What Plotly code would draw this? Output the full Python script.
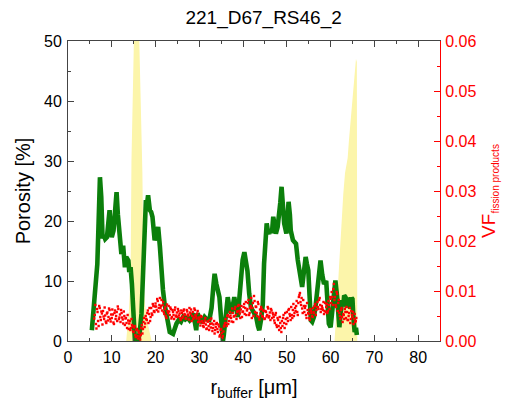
import numpy as np
import plotly.graph_objects as go

# ---- porosity profile (left axis, %) ----
por_r = [5.45, 5.8, 6.2, 6.4, 6.7, 7.0, 7.3, 7.6, 7.9, 8.2, 8.5, 8.9, 9.2, 9.5, 9.8, 10.0,
         10.4, 10.8, 11.1, 11.4, 11.7, 11.9, 12.2, 12.6, 12.8, 13.0, 13.3, 13.8, 14.0, 14.3,
         14.6, 14.8, 15.1, 15.3, 16.05, 16.4, 16.8, 17.1, 17.4, 17.6, 17.8, 18.0, 18.3, 18.7,
         19.0, 19.3, 19.6, 19.8, 20.2, 20.6, 21.0, 21.3, 21.7, 22.1, 22.5, 22.9, 23.25, 24.0,
         24.4, 24.8, 25.3, 25.8, 26.3, 26.8, 27.3, 27.8, 28.2, 28.5, 28.9, 29.3, 29.6, 30.1,
         30.5, 31.2, 31.7, 32.3, 32.8, 33.2, 33.5, 33.9, 34.2, 34.6, 35.0, 35.4, 35.6, 36.0,
         36.5, 36.9, 37.3, 37.7, 38.0, 38.4, 38.8, 39.2, 39.5, 39.9, 40.3, 40.7, 41.0, 41.4,
         41.8, 42.4, 43.0, 43.4, 43.7, 44.1, 44.5, 44.8, 45.1, 45.4, 45.7, 46.0, 46.3, 46.6,
         46.9, 47.2, 47.5, 47.9, 48.25, 48.5, 48.8, 49.1, 49.4, 49.9, 50.2, 50.4, 50.7, 50.9,
         51.4, 52.1, 52.5, 52.8, 53.2, 53.5, 53.9, 54.3, 54.6, 54.9, 55.2, 55.5, 55.8, 56.2,
         56.6, 56.95, 57.3, 57.7, 58.1, 58.5, 59.0, 59.3, 59.6, 60.0, 60.4, 60.8, 61.1, 61.5,
         62.0, 62.3, 62.6, 62.9, 63.1, 63.4, 63.7, 64.0, 64.2, 64.5, 64.8, 65.0, 65.2, 65.5,
         65.8, 66.0]
porosity = [1.8, 5.0, 10.5, 12.3, 12.8, 20.0, 27.3, 24.0, 17.1, 17.6, 17.0, 17.3, 19.5, 21.8,
            18.5, 17.3, 18.4, 22.0, 24.8, 21.0, 17.5, 16.2, 14.5, 15.9, 13.0, 12.3, 14.0, 13.4,
            11.5, 12.3, 9.5, 7.3, 3.0, 0.0, 0.0, 1.5, 4.6, 12.0, 20.0, 22.9, 23.5, 22.5, 24.3,
            21.8, 21.5, 20.7, 18.0, 16.8, 17.5, 19.0, 15.7, 12.0, 8.5, 6.0, 4.0, 2.5, 1.5, 1.2,
            2.2, 2.9, 3.5, 3.2, 4.0, 3.6, 3.9, 3.45, 3.8, 4.6, 3.5, 1.8, 4.6, 3.5, 3.0, 4.0,
            3.6, 3.5, 5.5, 9.0, 11.2, 9.5, 8.0, 7.3, 3.5, 0.0, 1.0, 4.5, 7.3, 5.5, 4.6, 6.0,
            7.3, 5.5, 4.0, 7.5, 10.7, 13.5, 14.8, 13.5, 11.7, 7.9, 5.6, 4.8, 4.0, 2.5, 1.8,
            3.5, 6.0, 12.9, 17.0, 19.6, 18.2, 17.9, 18.6, 18.0, 20.7, 19.0, 17.9, 19.0, 20.7,
            23.0, 25.7, 22.5, 19.6, 17.9, 20.5, 23.2, 21.0, 18.4, 16.8, 16.2, 13.5, 11.8, 10.2,
            9.0, 11.5, 14.0, 12.8, 11.8, 7.5, 3.45, 3.2, 4.0, 6.0, 8.5, 11.0, 13.4, 11.0, 9.5,
            10.0, 6.0, 2.9, 2.3, 5.0, 8.5, 10.1, 7.3, 2.3, 4.5, 6.8, 5.8, 7.6, 7.3, 5.6, 7.2,
            6.8, 5.4, 7.2, 7.0, 4.0, 1.5, 2.2, 1.0]

# ---- fission-product volume fraction (right axis), units of 1e-3 ----
# two interleaved sampling passes, each on a 0.25 um grid
VF_STEP = 0.25
VF_START_A = 6.0
vf_milli_a = [
    4.5, 7.2, 2.5, 5.8,  3.0, 6.6, 4.2, 5.5,  6.0, 4.4, 5.1, 3.6,  5.7, 4.8, 6.2, 3.9,
    4.6, 5.3, 3.4, 6.1,  5.0, 4.0, 6.4, 4.7,  3.8, 5.6, 4.3, 5.9,  3.2, 4.6, 2.6, 4.1,
    3.5, 2.2, 4.4, 2.9,  1.8, 3.0, 0.8, 2.4,  0.5, 1.6, 0.3, 2.6,  1.5, 3.8, 2.8, 5.0,
    4.2, 6.1, 5.4, 4.0,  6.6, 5.2, 7.0, 5.8,  7.5, 6.2, 8.0, 6.6,  8.6, 7.0, 6.1, 7.8,
    5.4, 6.8, 4.6, 6.0,  7.0, 5.2, 6.4, 4.8,  5.8, 4.4, 6.7, 5.1,  4.8, 6.0, 5.5, 4.2,
    5.6, 4.9, 6.3, 5.2,  4.5, 5.9, 5.0, 6.6,  5.4, 4.0, 5.8, 4.7,  6.2, 4.9, 5.5, 3.8,
    4.3, 3.1, 4.8, 3.6,  2.8, 4.1, 3.3, 2.5,  3.9, 2.2, 3.4, 4.5,  2.0, 3.3, 1.5, 2.8,
    3.6, 1.8, 2.9, 1.2,  2.4, 0.6, 1.9, 3.2,  4.4, 3.0, 5.2, 4.0,  5.8, 4.6, 6.5, 3.8,
    5.0, 6.8, 4.4, 6.0,  7.2, 5.5, 6.3, 4.8,  5.9, 7.4, 6.6, 5.2,  6.4, 8.2, 5.6, 7.0,
    4.6, 7.6, 9.0, 5.8,  6.8, 5.0, 7.4, 4.3,  5.5, 6.4, 4.8, 6.0,  4.5, 5.8, 5.2, 6.5,
    5.0, 4.2, 6.1, 5.6,  4.8, 3.6, 5.6, 2.8,  4.2, 2.2, 3.6, 1.8,  3.0, 5.2, 2.6, 4.4,
    5.8, 4.0, 6.4, 5.0,  6.8, 4.6, 7.4, 5.6,  6.0, 8.0, 5.2, 8.8,  9.6, 7.2, 6.5, 8.2,
    5.8, 7.0, 4.6, 6.2,  5.4, 4.2, 6.0, 5.0,  6.6, 5.6, 7.4, 6.2,  7.8, 6.4, 8.6, 5.8,
    7.0, 6.2, 5.4, 7.6,  6.8, 5.6, 8.0, 6.4,  8.4, 9.8, 7.2, 11.4, 8.8, 6.8, 9.4, 7.6,
    5.6, 4.4, 6.6, 3.8,  5.2, 6.4, 4.6, 5.8,  4.2, 5.6, 3.6, 6.0,  4.8, 3.4, 5.4, 4.0,
]
VF_START_B = 6.125
vf_milli_b = [
    5.2, 3.4, 6.4, 4.0,  7.0, 4.8, 5.9, 3.3,  4.9, 6.7, 3.9, 5.5,  4.1, 6.5, 4.4, 5.3,
    6.3, 3.7, 5.6, 4.4,  5.8, 6.9, 4.4, 5.3,  6.2, 4.7, 3.5, 5.0,  4.5, 3.6, 5.2, 2.4,
    4.0, 2.6, 3.2, 1.9,  2.7, 1.2, 2.2, 1.0,  2.0, 0.9, 1.2, 3.2,  2.4, 4.6, 3.5, 4.4,
    5.6, 3.6, 6.6, 4.8,  5.5, 7.4, 6.0, 6.9,  6.9, 8.4, 5.9, 7.2,  6.6, 8.2, 7.2, 5.8,
    6.4, 5.0, 7.3, 5.6,  5.9, 6.7, 4.5, 6.2,  5.2, 6.2, 4.9, 5.7,  6.4, 5.1, 4.6, 6.1,
    4.6, 6.0, 5.4, 4.5,  6.2, 5.3, 4.3, 5.7,  6.3, 5.0, 4.4, 6.5,  5.2, 4.5, 6.0, 4.7,
    3.8, 5.0, 4.0, 3.0,  3.6, 4.6, 2.4, 3.9,  3.0, 4.2, 2.7, 3.5,  2.6, 4.0, 2.2, 3.4,
    2.4, 3.3, 0.9, 2.2,  1.6, 1.0, 2.9, 3.6,  3.6, 5.0, 3.4, 4.8,  5.1, 3.9, 5.6, 4.9,
    6.4, 5.2, 5.8, 7.0,  6.0, 4.6, 7.0, 5.8,  6.8, 5.4, 7.8, 6.1,  7.6, 5.2, 6.6, 8.6,
    6.6, 5.0, 8.0, 6.9,  5.6, 7.8, 4.8, 6.3,  6.8, 5.0, 6.1, 4.4,  6.0, 4.9, 6.8, 4.7,
    5.7, 6.4, 4.6, 5.3,  4.1, 5.2, 3.2, 4.6,  3.0, 4.8, 2.6, 4.0,  4.6, 3.6, 5.6, 3.4,
    4.6, 6.2, 5.4, 4.2,  5.2, 6.2, 5.0, 6.6,  7.0, 5.8, 7.6, 9.2,  7.8, 8.6, 5.6, 7.0,
    6.6, 5.2, 7.6, 5.6,  4.6, 6.4, 5.6, 4.8,  5.8, 7.0, 5.2, 6.8,  6.8, 8.2, 7.2, 6.4,
    6.6, 7.8, 6.0, 5.8,  7.4, 6.0, 7.2, 8.8,  7.6, 8.8, 10.4, 8.2, 7.2, 9.8, 6.0, 8.2,
    5.0, 6.2, 4.8, 5.4,  4.4, 5.8, 6.8, 4.2,  5.0, 6.6, 4.4, 5.2,  5.8, 4.4, 3.8, 4.6,
]
vf_r = np.concatenate([VF_START_A + VF_STEP * np.arange(len(vf_milli_a)),
                       VF_START_B + VF_STEP * np.arange(len(vf_milli_b))])
vf = np.array(vf_milli_a + vf_milli_b) * 1e-3

# ---- shaded bands (left axis scale) ----
band1_r = [13.3, 13.6, 13.9, 14.2, 14.35, 14.5, 14.65, 14.8, 15.1, 15.5, 15.9, 16.3, 16.6,
           16.9, 17.0, 17.15, 17.25, 17.6, 18.2, 18.8, 19.1]
band1_h = [0, 2, 5, 9, 15, 30, 40, 50, 60, 66, 62, 50, 42, 35, 28, 18, 10, 6, 3, 1, 0]
band2_r = [60.9, 61.1, 61.5, 61.9, 62.2, 62.5, 62.9, 63.3, 63.6, 63.9, 64.2, 64.6, 65.0,
           65.4, 65.8, 66.0, 66.05, 66.1]
band2_h = [0, 2, 7, 12, 16, 20, 24.5, 28, 29, 30.5, 33.5, 37, 41, 44.5, 47, 46.5, 20, 0]

FONT = "Arial, Liberation Sans, sans-serif"
BAND_COLOR = "rgb(252,245,170)"
GREEN = "#0b7f0b"
RED = "#ff0000"
AXIS_GREY = "#444444"

fig = go.Figure()
for br, bh in ((band1_r, band1_h), (band2_r, band2_h)):
    fig.add_trace(go.Scatter(x=br, y=bh, mode="lines", fill="tozeroy",
                             fillcolor=BAND_COLOR, line=dict(width=0, color=BAND_COLOR),
                             hoverinfo="skip", showlegend=False))

fig.add_trace(go.Scatter(x=vf_r, y=vf, yaxis="y2", mode="markers",
                         marker=dict(symbol="square", size=2.4, color=RED, line=dict(width=0)),
                         showlegend=False))

fig.add_trace(go.Scatter(x=por_r, y=porosity, mode="lines",
                         line=dict(color=GREEN, width=4.6), showlegend=False))

tickfont = dict(family=FONT, size=16, color="black")

fig.update_layout(
    width=507, height=409,
    margin=dict(l=68, r=67, t=41, b=68),
    paper_bgcolor="white", plot_bgcolor="white",
    showlegend=False,
    title=dict(text="221_D67_RS46_2", x=0.52, xref="container", xanchor="center",
               y=0.958, yref="container", yanchor="middle",
               font=dict(family=FONT, size=19, color="black")),
    xaxis=dict(range=[0, 85], dtick=10, tick0=0, ticks="inside", ticklen=6, tickwidth=1,
               tickcolor=AXIS_GREY, showline=True, linecolor=AXIS_GREY, linewidth=1,
               mirror="ticks", showgrid=False, zeroline=False, tickfont=tickfont,
               ticklabelstandoff=2,
               minor=dict(dtick=5, ticks="inside", ticklen=3, tickcolor=AXIS_GREY),
               title=dict(text="r<sub>buffer</sub> [μm]", standoff=14,
                          font=dict(family=FONT, size=20, color="black"))),
    yaxis=dict(range=[0, 50], dtick=10, tick0=0, ticks="inside", ticklen=6, tickwidth=1,
               tickcolor=AXIS_GREY, showline=True, linecolor=AXIS_GREY, linewidth=1,
               showgrid=False, zeroline=False, tickfont=tickfont, ticklabelstandoff=2,
               minor=dict(dtick=5, ticks="inside", ticklen=3, tickcolor=AXIS_GREY),
               title=dict(text="Porosity [%]", standoff=8,
                          font=dict(family=FONT, size=20, color="black"))),
    yaxis2=dict(range=[0, 0.06], dtick=0.01, tick0=0, tickformat=".2f", overlaying="y",
                side="right", ticks="inside", ticklen=6, tickwidth=1, tickcolor=RED,
                showline=True, linecolor=RED, linewidth=1, showgrid=False, zeroline=False,
                tickfont=dict(family=FONT, size=16, color=RED), ticklabelstandoff=1,
                minor=dict(dtick=0.005, ticks="inside", ticklen=3, tickcolor=RED),
                title=dict(text="VF<sub><span style='font-size:10px'>fission products</span></sub>",
                           standoff=6, font=dict(family=FONT, size=19, color=RED))),
)

fig.write_html("out.html")
